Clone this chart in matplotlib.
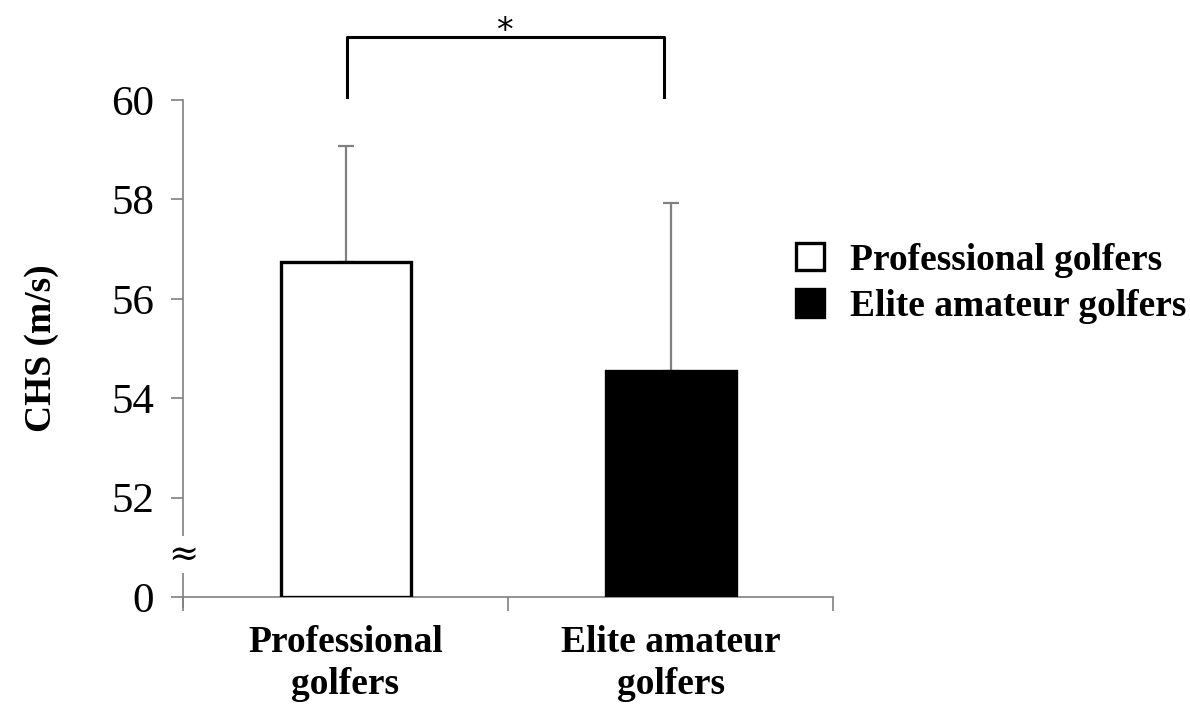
import matplotlib
matplotlib.use("Agg")
import matplotlib.pyplot as plt
from matplotlib.patches import Patch

groups = ["Professional\ngolfers", "Elite amateur\ngolfers"]
legend_labels = ["Professional golfers", "Elite amateur golfers"]
means = [56.75, 54.55]
sds = [2.33, 3.37]
yticks = [50, 52, 54, 56, 58, 60]
ytick_labels = ["0", "52", "54", "56", "58", "60"]

plt.rcParams["font.family"] = ["Liberation Serif", "DejaVu Serif"]

fig = plt.figure(figsize=(11.9, 7.09), dpi=100)
ax = fig.add_axes([183 / 1190, 1 - 597 / 709, 650 / 1190, 497 / 709])

x = range(len(means))
ax.bar(x, [m - 50 for m in means], bottom=50, width=0.4,
       color=["white", "black"], edgecolor="black", linewidth=2.4, zorder=3)
ax.errorbar(x, means, yerr=[[0, 0], sds], fmt="none", ecolor="#808080",
            elinewidth=1.6, capsize=6, capthick=1.6, zorder=2)

ax.set_xlim(-0.5, 1.5)
ax.set_ylim(50, 60)
ax.set_yticks(yticks)
ax.set_yticklabels(ytick_labels, fontsize=31)
ax.set_xticks([-0.5, 0.5, 1.5])
ax.set_xticklabels([])
ax.set_xticks(list(x), minor=True)
ax.set_xticklabels(groups, minor=True, fontsize=27, fontweight="bold",
                   linespacing=1.25)
ax.tick_params(axis="x", which="minor", length=0, pad=20)
ax.tick_params(axis="x", which="major", length=10, color="#808080", width=1.2)
ax.tick_params(axis="y", length=9, color="#808080", width=1.2, pad=12)

for side in ["top", "right"]:
    ax.spines[side].set_visible(False)
for side in ["left", "bottom"]:
    ax.spines[side].set_color("#808080")
    ax.spines[side].set_linewidth(1.2)
ax.spines["left"].set_bounds(49.8, 60)

# axis break symbol
ax.text(-0.5, 50.85, "≈", fontsize=26, ha="center", va="center",
        family="DejaVu Serif",
        bbox=dict(facecolor="white", edgecolor="none", pad=1), zorder=5)

# significance bracket
yb, yt = 60.06, 61.27
ax.plot([0.005, 0.005, 0.98, 0.98], [yb, yt, yt, yb], color="black",
        lw=2.2, clip_on=False)
ax.text(0.49, 61.38, "*", fontsize=24, ha="center", va="center",
        family="DejaVu Sans")

ax.set_ylabel("CHS (m/s)", fontsize=27, fontweight="bold")
ax.yaxis.set_label_coords(-0.19, 0.5)

handles = [Patch(facecolor="white", edgecolor="black", linewidth=2.4),
           Patch(facecolor="black", edgecolor="black", linewidth=2.4)]
fig.legend(handles, legend_labels, loc="upper left",
           bbox_to_anchor=(762 / 1190, 1 - 209 / 709), frameon=False,
           prop=dict(size=27, weight="bold"), handlelength=0.75,
           handleheight=0.75, handletextpad=0.7, labelspacing=0.3)

fig.savefig("out.png", dpi=100)
